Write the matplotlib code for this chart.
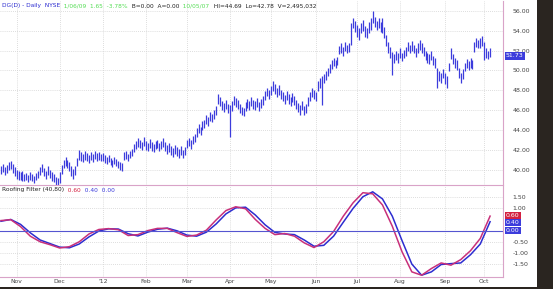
import pandas as pd
import matplotlib.pyplot as plt
import numpy as np

# daily price bars (high / low), one per trading day from 20 Oct 2011
hi = [40.4, 40.6, 40.3, 40.5, 40.8, 40.9, 40.6, 40.3, 40.0, 39.9,
      39.8, 39.9, 39.6, 39.7, 39.5, 39.8, 39.6, 39.4, 39.7, 39.9,
      40.3, 40.6, 40.2, 39.9, 40.4, 40.0, 39.8, 39.6, 39.3, 39.2,
      39.8, 40.5, 41.0, 41.3, 41.0, 40.8, 40.4, 40.1, 40.4, 41.2,
      42.0, 41.8, 41.6, 41.9, 41.7, 41.5, 41.8, 41.6, 41.9, 41.7,
      41.8, 41.6, 41.7, 41.5, 41.3, 41.5, 41.2, 41.0, 41.3, 41.1,
      40.9, 40.8, 40.7, 41.8, 41.9, 41.6, 41.9, 42.1, 42.6, 42.9,
      43.2, 43.0, 42.8, 43.3, 42.9, 42.7, 43.1, 42.8, 42.6, 42.9,
      43.0, 42.7, 42.9, 43.2, 42.8, 42.5, 42.7, 42.4, 42.2, 42.5,
      42.3, 42.1, 42.4, 42.0, 42.3, 43.0, 43.2, 43.0, 43.4, 43.6,
      44.2, 44.6, 44.3, 44.9, 45.0, 45.5, 45.3, 45.8, 45.6, 46.0,
      46.4, 47.6, 47.3, 46.9, 46.7, 47.0, 46.6, 46.5, 46.9, 47.4,
      47.2, 47.0, 46.6, 46.3, 46.2, 46.8, 47.1, 46.9, 47.3, 47.0,
      46.9, 47.2, 46.8, 47.1, 47.4, 47.9, 48.3, 48.0, 48.4, 48.9,
      48.6, 48.2, 48.5, 48.0, 47.8, 47.5, 47.9, 47.6, 47.3, 47.7,
      47.4, 47.0, 46.7, 46.5, 46.9, 46.4, 46.6, 47.3, 47.8, 48.2,
      48.0, 47.8, 48.9, 49.2, 49.4, 49.6, 49.9, 50.3, 50.6, 51.0,
      51.3, 51.0, 51.4, 52.5, 52.8, 52.4, 52.9, 52.6, 52.7, 54.8,
      55.3, 55.0, 54.6, 54.2, 54.8, 55.1, 54.5, 54.3, 54.9, 55.2,
      56.0, 55.4, 55.0, 55.3, 54.9, 55.2, 54.4, 53.6, 52.9, 52.4,
      51.9, 51.6, 52.0, 51.8, 52.2, 51.7, 52.1, 52.4, 52.9, 52.6,
      53.0, 52.6, 52.3, 52.8, 53.1, 52.7, 52.4, 52.0, 51.8, 51.6,
      52.0, 51.5, 51.2, 50.3, 49.9, 49.8, 50.1, 49.7, 49.4, 50.8,
      52.2, 51.6, 51.3, 51.0, 50.2, 49.8, 50.1, 50.8, 51.1, 50.9,
      51.2, 51.0, 52.9, 53.3, 53.1, 53.2, 53.5, 52.9, 52.3, 52.0, 52.2]
lo = [39.6, 39.8, 39.5, 39.7, 40.0, 40.1, 39.7, 39.4, 39.1, 39.0,
      39.0, 38.9, 38.9, 39.0, 38.8, 39.0, 38.9, 38.7, 39.0, 39.2,
      39.5, 39.8, 39.4, 39.1, 39.5, 39.2, 38.9, 38.8, 38.5, 38.4,
      38.7, 39.6, 40.2, 40.4, 40.2, 39.9, 39.4, 39.1, 39.5, 40.4,
      41.0, 40.9, 40.8, 41.0, 40.9, 40.7, 41.0, 40.8, 41.1, 40.9,
      41.0, 40.9, 40.9, 40.7, 40.6, 40.8, 40.5, 40.3, 40.6, 40.4,
      40.2, 40.0, 39.9, 41.0, 41.1, 40.9, 41.2, 41.4, 41.8, 42.1,
      42.3, 42.2, 42.0, 42.4, 42.0, 41.9, 42.2, 41.9, 41.8, 42.1,
      42.2, 41.9, 42.1, 42.3, 41.9, 41.6, 41.8, 41.5, 41.3, 41.6,
      41.4, 41.2, 41.5, 41.2, 41.5, 42.2, 42.4, 42.1, 42.6, 42.8,
      43.3, 43.7, 43.5, 44.0, 44.2, 44.6, 44.4, 44.9, 44.8, 45.1,
      45.5, 46.6, 46.4, 46.0, 45.8, 46.1, 45.7, 43.3, 45.9, 46.5,
      46.3, 46.1, 45.7, 45.5, 45.4, 45.9, 46.2, 46.0, 46.4, 46.1,
      46.0, 46.3, 45.9, 46.2, 46.5, 47.0, 47.4, 47.1, 47.5, 47.9,
      47.6, 47.3, 47.5, 47.1, 46.9, 46.6, 47.0, 46.6, 46.4, 46.8,
      46.5, 46.1, 45.8, 45.5, 46.0, 45.5, 45.7, 46.4, 46.9, 47.3,
      47.1, 46.9, 47.9, 48.3, 46.5, 48.7, 49.0, 49.4, 49.7, 50.1,
      50.4, 50.2, 50.5, 51.6, 51.8, 51.5, 52.0, 51.7, 51.9, 52.6,
      54.2, 53.9, 53.4, 53.1, 53.7, 54.0, 53.4, 53.2, 53.8, 54.1,
      54.8, 54.4, 54.1, 54.3, 53.9, 53.8, 53.3, 52.5, 51.7, 51.2,
      49.5, 50.7, 51.0, 50.8, 51.3, 50.9, 51.2, 51.5, 52.0, 51.7,
      52.0, 51.7, 51.4, 51.8, 52.1, 51.8, 51.5, 51.0, 50.8, 50.6,
      51.0, 50.5, 50.2, 48.2, 48.9, 48.7, 49.2, 48.6, 48.2, 49.9,
      51.1, 50.6, 50.3, 50.0, 49.2, 48.7, 49.1, 49.9, 50.2, 50.0,
      50.2, 50.1, 51.9, 52.4, 52.2, 52.3, 52.5, 51.0, 51.3, 51.1, 51.4]

# roofing filter (40,80) and its trigger, sampled every 5 trading days
ind_days = list(range(0, 251, 5))
roof = [0.45, 0.49, 0.18, -0.25, -0.50, -0.63, -0.78, -0.72, -0.50, -0.15,
        0.05, 0.09, 0.04, -0.22, -0.18, 0.00, 0.10, 0.10, -0.09, -0.26,
        -0.20, 0.02, 0.48, 0.90, 1.07, 0.98, 0.50, 0.10, -0.18, -0.13,
        -0.25, -0.55, -0.76, -0.50, -0.04, 0.65, 1.25, 1.70, 1.65, 1.15,
        0.20, -0.95, -1.85, -2.00, -1.70, -1.45, -1.55, -1.30, -0.90, -0.35, 0.65]
trig = [0.42, 0.50, 0.28, -0.10, -0.42, -0.58, -0.74, -0.77, -0.60, -0.28,
        -0.02, 0.08, 0.07, -0.14, -0.24, -0.07, 0.06, 0.11, -0.01, -0.20,
        -0.25, -0.07, 0.30, 0.75, 1.02, 1.05, 0.70, 0.26, -0.08, -0.15,
        -0.18, -0.42, -0.70, -0.66, -0.25, 0.38, 1.00, 1.52, 1.74, 1.42,
        0.65, -0.45, -1.50, -2.00, -1.85, -1.52, -1.48, -1.45, -1.08, -0.60, 0.40]

month_names = ['Nov', 'Dec', "'12", 'Feb', 'Mar', 'Apr', 'May', 'Jun', 'Jul', 'Aug', 'Sep', 'Oct']
price_ticks = [40, 42, 44, 46, 48, 50, 52, 54, 56]
ind_ticks = [1.5, 1.0, -0.5, -1.0, -1.5]

dates = pd.bdate_range('2011-10-20', periods=len(hi))
month_pos = [i for i in range(1, len(dates)) if dates[i].month != dates[i - 1].month]
days = np.arange(len(hi))

W, H = 553, 289
fig = plt.figure(figsize=(W / 100, H / 100), dpi=100)
fig.patch.set_facecolor('#2a2520')
bg = fig.add_axes([0, 1 - 287 / H, 537 / W, 287 / H])
bg.set_facecolor('white')
bg.set_xticks([])
bg.set_yticks([])
for s in bg.spines.values():
    s.set_visible(False)

pink = '#d9a3c8'
grid_kw = dict(color='#d2d2d2', linestyle=(0, (1, 1.5)), linewidth=0.6)
xlim = (-0.5, 256.6)

# price panel
ax = fig.add_axes([0, 1 - 185 / H, 503 / W, 184 / H])
ax.set_facecolor('none')
ax.vlines(days, lo, hi, color='#3c3cdc', linewidth=0.9)
ax.set_xlim(*xlim)
ax.set_ylim(38.55, 56.95)
ax.set_yticks(price_ticks)
ax.set_yticklabels([f'{v:.2f}' for v in price_ticks])
ax.set_xticks(month_pos)
ax.set_xticklabels([])
ax.grid(True, **grid_kw)
ax.yaxis.tick_right()
ax.tick_params(axis='y', length=0, pad=7, labelsize=4.5, labelcolor='#444444')
ax.tick_params(axis='x', length=0)
for s in ['top', 'left']:
    ax.spines[s].set_visible(False)
ax.spines['bottom'].set_color(pink)
ax.spines['right'].set_color(pink)

last_price = 51.73
ax.text(1.006, 51.45, f'{last_price:.2f}', transform=ax.get_yaxis_transform(),
        ha='left', va='center', fontsize=4.5, color='white',
        bbox=dict(boxstyle='square,pad=0.2', fc='#3c3cdc', ec='none'))

hdr = [('DG(D) - Daily  NYSE', '#2a2ad0'), ('  1/06/09  1.65  -3.78%', '#55dd55'),
       ('  B=0.00  A=0.00', '#222222'), ('  10/05/07', '#55dd55'),
       ('  HI=44.69  Lo=42.78  V=2,495,032', '#222222')]
x0 = 2
for txt, col in hdr:
    t = fig.text(x0 / W, 1 - 6 / H, txt, fontsize=4.2, color=col, ha='left', va='center')
    fig.canvas.draw()
    x0 += t.get_window_extent().width

# indicator panel
ax2 = fig.add_axes([0, 1 - 277 / H, 503 / W, 91 / H])
ax2.set_facecolor('none')
ax2.plot(ind_days, trig, color='#2d2dd0', linewidth=1.1)
ax2.plot(ind_days, roof, color='#c8307a', linewidth=1.1)
ax2.axhline(0, color='#5555d0', linewidth=0.8)
ax2.set_xlim(*xlim)
ax2.set_ylim(-2.08, 2.0)
ax2.set_yticks(ind_ticks)
ax2.set_yticklabels([f'{v:.2f}' for v in ind_ticks])
ax2.set_xticks(month_pos)
ax2.set_xticklabels(month_names)
ax2.grid(True, **grid_kw)
ax2.yaxis.tick_right()
ax2.tick_params(axis='y', length=0, pad=7, labelsize=4.5, labelcolor='#444444')
ax2.tick_params(axis='x', length=0, pad=1.5, labelsize=4.3, labelcolor='#444444')
for s in ['top', 'left']:
    ax2.spines[s].set_visible(False)
ax2.spines['bottom'].set_color(pink)
ax2.spines['right'].set_color(pink)

for val, txt, col in [(0.66, '0.60', '#d42040'), (0.36, '0.40', '#3c3cdc'), (0.0, '0.00', '#3c3cdc')]:
    ax2.text(1.006, val, txt, transform=ax2.get_yaxis_transform(), ha='left', va='center',
             fontsize=4.5, color='white', bbox=dict(boxstyle='square,pad=0.2', fc=col, ec='none'))

lbl = [('Roofing Filter (40,80)', '#222222'), ('  0.60', '#d42040'),
       ('  0.40', '#3c3cdc'), ('  0.00', '#3c3cdc')]
x0 = 2
for txt, col in lbl:
    t = fig.text(x0 / W, 1 - 190 / H, txt, fontsize=4.2, color=col, ha='left', va='center')
    fig.canvas.draw()
    x0 += t.get_window_extent().width

plt.savefig('out.png', dpi=100, facecolor=fig.get_facecolor())
